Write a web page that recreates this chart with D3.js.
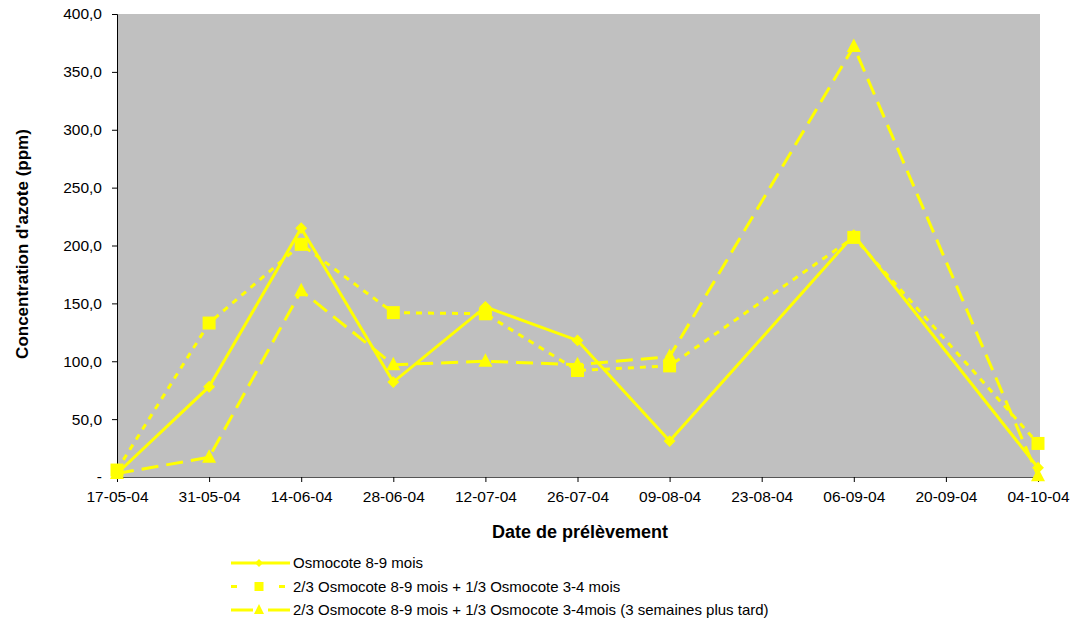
<!DOCTYPE html>
<html><head><meta charset="utf-8">
<script src="https://cdn.jsdelivr.net/npm/d3@7"></script>
<style>body{margin:0;background:#fff}svg{display:block}text{font-family:"Liberation Sans",Arial,sans-serif}</style>
</head><body>
<svg id="c" width="1073" height="624"></svg>
<script>
const dates = ["17-05-04","31-05-04","14-06-04","28-06-04","12-07-04","26-07-04","09-08-04","23-08-04","06-09-04","20-09-04","04-10-04"];
const yTicks = [0,50,100,150,200,250,300,350,400];
const seriesNames = ["Osmocote 8-9 mois","2/3 Osmocote 8-9 mois + 1/3 Osmocote 3-4 mois","2/3 Osmocote 8-9 mois + 1/3 Osmocote 3-4mois (3 semaines plus tard)"];
const s1 = [3, 78, 215, 82, 147, 118, 31, null, 209, null, 8];
const s2 = [6, 133, 201, 142, 141, 92, 96, null, 207, null, 29];
const s3 = [3, 17, 161, 97, 100, 97, 104, null, 372, null, 1];
const seriesVals = [s1, s2, s3];
const markers = ["diamond","square","triangle"];
const dashes = [null, "6,6", "17,8"];
const color = "#ffff00";

const svg = d3.select("#c");
const L = 117, R = 1038, T = 14, B = 477;
const x = d3.scalePoint().domain(dates).range([L, R]);
const y = d3.scaleLinear().domain([0,400]).range([B, T]);

svg.append("rect").attr("x", L).attr("y", T).attr("width", 1040 - L).attr("height", B - T).attr("fill", "#c0c0c0");

const fmt = v => v === 0 ? "-" : d3.format(".1f")(v).replace(".", ",");
const ya = svg.append("g").attr("transform", `translate(${L},0)`)
  .call(d3.axisLeft(y).tickValues(yTicks).tickSize(5).tickPadding(10).tickFormat(fmt));
ya.select(".domain").attr("stroke", "#000");
ya.selectAll("text").attr("font-size", 15.5).attr("fill", "#000");
const xa = svg.append("g").attr("transform", `translate(0,${B})`)
  .call(d3.axisBottom(x).tickSize(5).tickPadding(9).tickSizeOuter(0));
xa.select(".domain").attr("stroke", "#555");
xa.selectAll("text").attr("font-size", 15.5).attr("fill", "#000");

svg.append("text").attr("x", 580).attr("y", 538).attr("text-anchor", "middle")
  .attr("font-size", 18).attr("font-weight", "bold").text("Date de prélèvement");
svg.append("text").attr("transform", "translate(28,244) rotate(-90)").attr("text-anchor", "middle")
  .attr("font-size", 17).attr("font-weight", "bold").text("Concentration d'azote (ppm)");

function markerPath(type) {
  if (type === "diamond") return d3.symbol(d3.symbolDiamond2, 90)();
  if (type === "square") return "M-6.5,-6.5h13v13h-13z";
  return "M0,-8L7,5.5L-7,5.5Z";
}

seriesVals.forEach((vals, i) => {
  const pts = dates.map((d, j) => ({d, v: vals[j]})).filter(p => p.v !== null);
  const line = d3.line().x(p => x(p.d)).y(p => y(p.v));
  svg.append("path").attr("d", line(pts)).attr("fill", "none").attr("stroke", color)
    .attr("stroke-width", 3).attr("stroke-dasharray", dashes[i]);
  svg.append("g").selectAll("path").data(pts).join("path")
    .attr("transform", p => `translate(${x(p.d)},${y(p.v)})`)
    .attr("d", markerPath(markers[i])).attr("fill", color);
});

// legend
const lg = svg.append("g");
seriesNames.forEach((n, i) => {
  const ly = 563 + i * 23.5;
  lg.append("line").attr("x1", 231).attr("x2", 290).attr("y1", ly).attr("y2", ly)
    .attr("stroke", color).attr("stroke-width", 3).attr("stroke-dasharray", i === 0 ? null : (i === 1 ? "6,18" : "22,15"));
  lg.append("path").attr("transform", `translate(259,${ly})`)
    .attr("d", i === 0 ? d3.symbol(d3.symbolDiamond2, 40)() : i === 1 ? "M-4.5,-4.5h9v9h-9z" : "M0,-6L5,4L-5,4Z")
    .attr("fill", color);
  lg.append("text").attr("x", 293).attr("y", ly + 5).attr("font-size", 15).text(n);
});
</script>
</body></html>
